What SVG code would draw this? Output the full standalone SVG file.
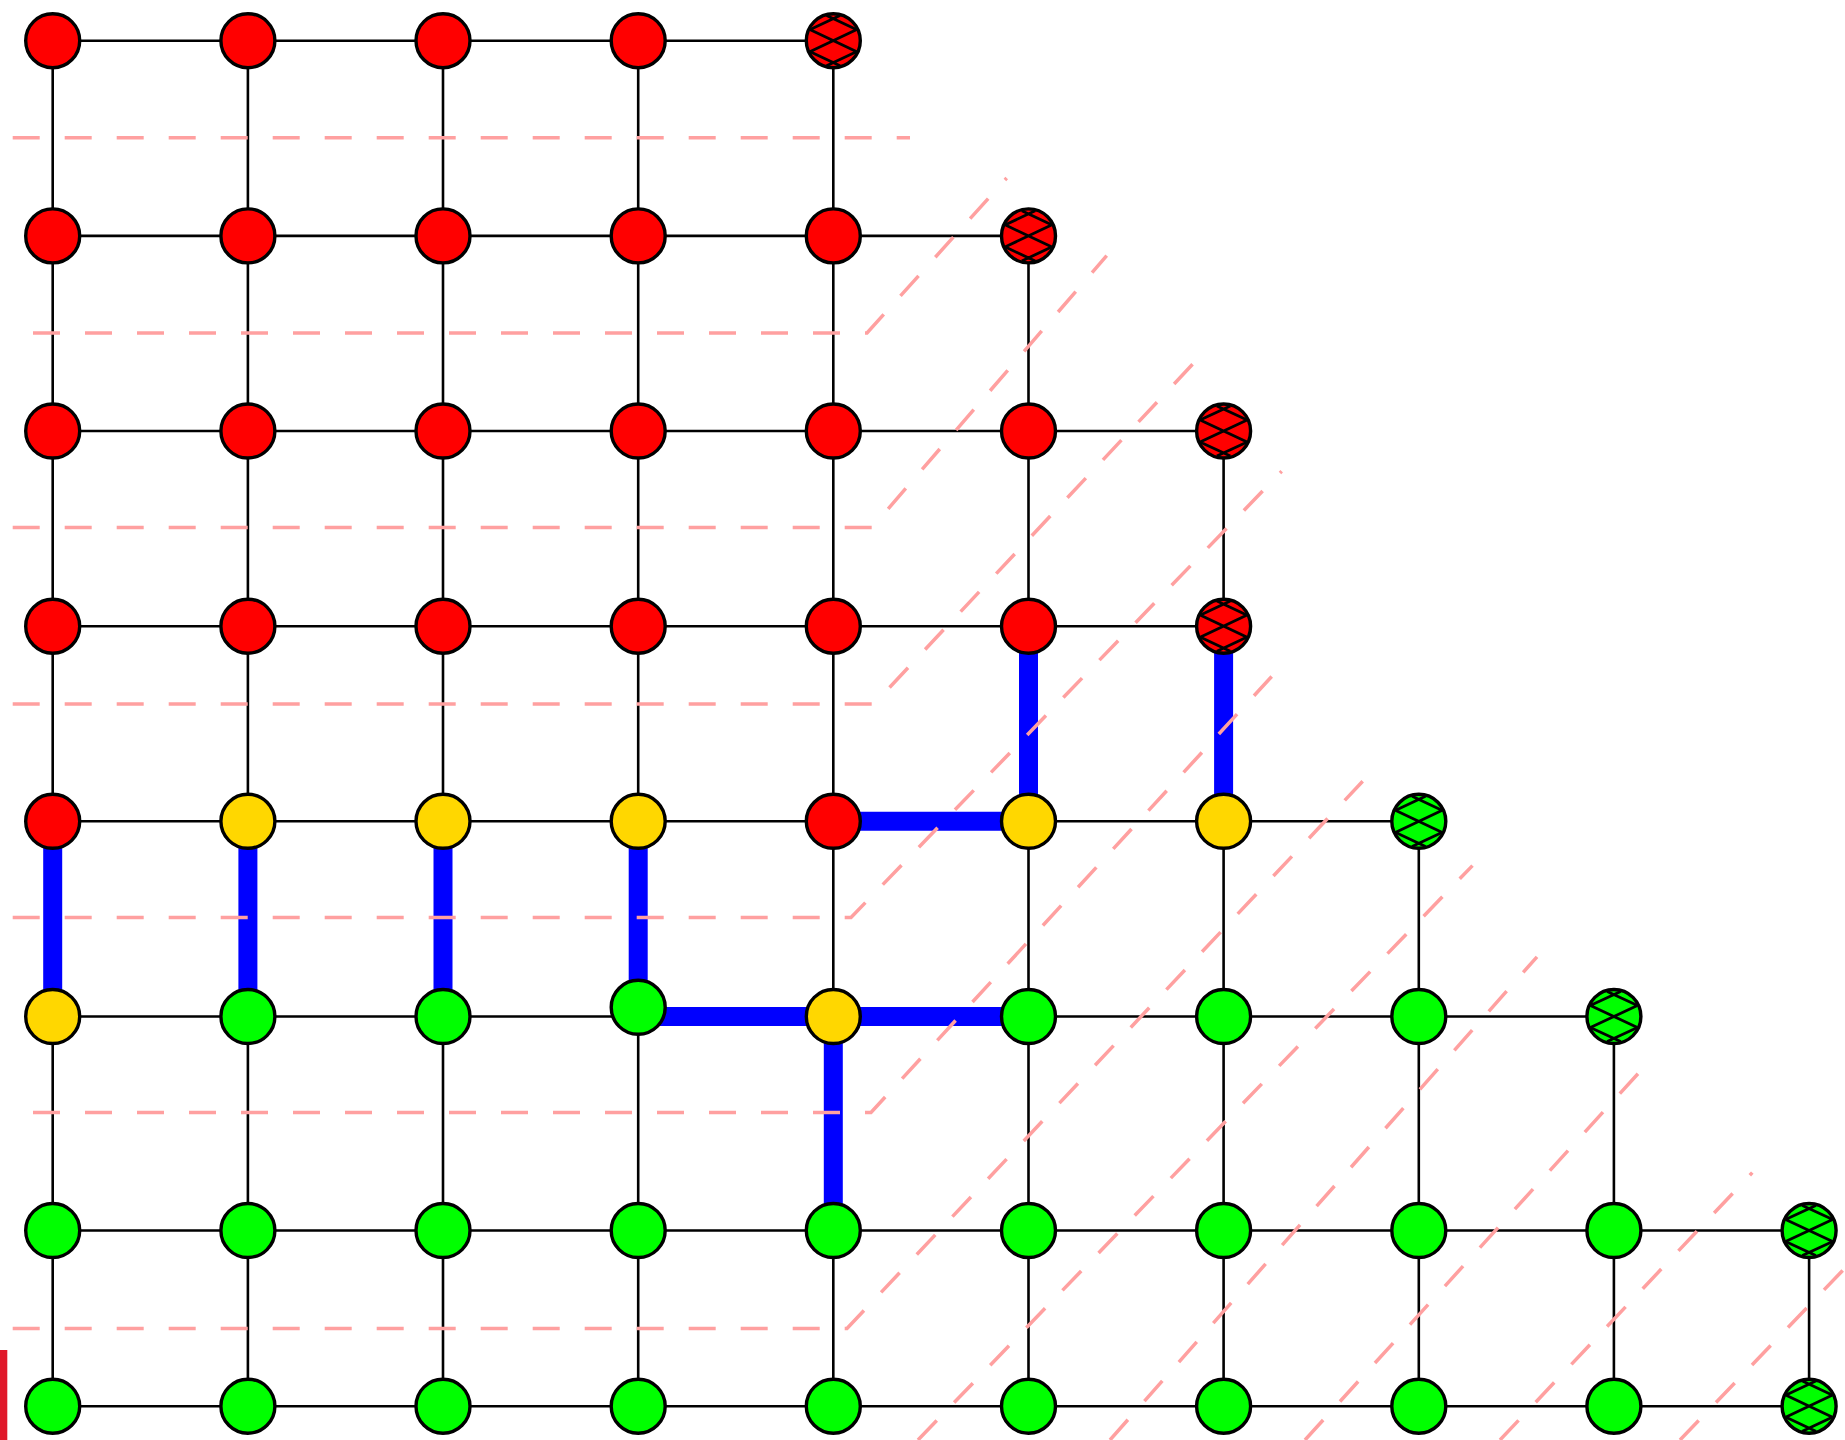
<svg xmlns="http://www.w3.org/2000/svg" xmlns:xlink="http://www.w3.org/1999/xlink" width="1845" height="1440" viewBox="0 0 1845 1440">
<style>
.e{stroke:#000;stroke-width:2.6;fill:none}
.b{stroke:#0000ff;stroke-width:19;fill:none}
.d{stroke:#ffa0a0;stroke-width:3.5;fill:none;stroke-dasharray:27 25}
.n{stroke:#000;stroke-width:3.4}
.r{fill:#ff0000}
.y{fill:#ffd700}
.g{fill:#00ff00}
.h{stroke:#000;stroke-width:2.8;fill:none}
</style>
<defs>
<path id="hx" class="h" d="M-23.5,-11.1L23.5,11.1M-23.5,11.1L23.5,-11.1M-6.7,-25.1L23.6,-10.9M6.7,-25.1L-23.6,-10.9M6.7,25.1L-23.6,10.9M-6.7,25.1L23.6,10.9"/>
</defs>
<rect width="1845" height="1440" fill="#fff"/>
<g id="connectors">
<path class="e" d="M52.7,40.7H833.3M52.7,235.9H1028.5M52.7,431H1223.6M52.7,626.2H1223.6M52.7,821.3H1418.8M52.7,1016.5H1613.9M52.7,1230.5H1809.1M52.7,1406.2H1809.1"/>
<path class="e" d="M52.7,40.7V1406.2M247.9,40.7V1406.2M443,40.7V1406.2M638.2,40.7V1406.2M833.3,40.7V1406.2M1028.5,235.9V1406.2M1223.6,431V1406.2M1418.8,821.3V1406.2M1613.9,1016.5V1406.2M1809.1,1230.5V1406.2"/>
<path class="b" d="M833.3,821.3H1028.5M1028.5,626.2V821.3M1223.6,626.2V821.3M52.7,821.3V1016.5M247.9,821.3V1016.5M443,821.3V1016.5M638.2,821.3V1007.3M638.2,1016.5H1028.5M833.3,1016.5V1230.5"/>
</g>
<g id="cuts">
<path class="d" d="M12.7,137.7H910"/>
<path class="d" d="M33,333H867L1006.7,178"/>
<path class="d" d="M12.7,527.5H872L1106.7,255.7"/>
<path class="d" d="M12.7,704H874L1193.3,363.5"/>
<path class="d" d="M12.7,917.5H851L1281.7,471.3"/>
<path class="d" d="M33,1112.5H871L1271.7,676.5"/>
<path class="d" d="M12.7,1328.5H847L1362.7,781.3"/>
<path class="d" d="M918,1440L1472.5,865.6"/>
<path class="d" d="M1110,1440L1537,956.8"/>
<path class="d" d="M1305,1440L1653.7,1056.4"/>
<path class="d" d="M1500,1440L1752.3,1172.6"/>
<path class="d" d="M1680,1440L1845,1268"/>
</g>
<g id="nodes">
<g id="n0_0"><circle class="n r" cx="52.7" cy="40.7" r="27"/></g>
<g id="n0_1"><circle class="n r" cx="247.9" cy="40.7" r="27"/></g>
<g id="n0_2"><circle class="n r" cx="443" cy="40.7" r="27"/></g>
<g id="n0_3"><circle class="n r" cx="638.2" cy="40.7" r="27"/></g>
<g id="n0_4"><circle class="n r" cx="833.3" cy="40.7" r="27"/><use xlink:href="#hx" href="#hx" x="833.3" y="40.7"/></g>
<g id="n1_0"><circle class="n r" cx="52.7" cy="235.9" r="27"/></g>
<g id="n1_1"><circle class="n r" cx="247.9" cy="235.9" r="27"/></g>
<g id="n1_2"><circle class="n r" cx="443" cy="235.9" r="27"/></g>
<g id="n1_3"><circle class="n r" cx="638.2" cy="235.9" r="27"/></g>
<g id="n1_4"><circle class="n r" cx="833.3" cy="235.9" r="27"/></g>
<g id="n1_5"><circle class="n r" cx="1028.5" cy="235.9" r="27"/><use xlink:href="#hx" href="#hx" x="1028.5" y="235.9"/></g>
<g id="n2_0"><circle class="n r" cx="52.7" cy="431" r="27"/></g>
<g id="n2_1"><circle class="n r" cx="247.9" cy="431" r="27"/></g>
<g id="n2_2"><circle class="n r" cx="443" cy="431" r="27"/></g>
<g id="n2_3"><circle class="n r" cx="638.2" cy="431" r="27"/></g>
<g id="n2_4"><circle class="n r" cx="833.3" cy="431" r="27"/></g>
<g id="n2_5"><circle class="n r" cx="1028.5" cy="431" r="27"/></g>
<g id="n2_6"><circle class="n r" cx="1223.6" cy="431" r="27"/><use xlink:href="#hx" href="#hx" x="1223.6" y="431"/></g>
<g id="n3_0"><circle class="n r" cx="52.7" cy="626.2" r="27"/></g>
<g id="n3_1"><circle class="n r" cx="247.9" cy="626.2" r="27"/></g>
<g id="n3_2"><circle class="n r" cx="443" cy="626.2" r="27"/></g>
<g id="n3_3"><circle class="n r" cx="638.2" cy="626.2" r="27"/></g>
<g id="n3_4"><circle class="n r" cx="833.3" cy="626.2" r="27"/></g>
<g id="n3_5"><circle class="n r" cx="1028.5" cy="626.2" r="27"/></g>
<g id="n3_6"><circle class="n r" cx="1223.6" cy="626.2" r="27"/><use xlink:href="#hx" href="#hx" x="1223.6" y="626.2"/></g>
<g id="n4_0"><circle class="n r" cx="52.7" cy="821.3" r="27"/></g>
<g id="n4_1"><circle class="n y" cx="247.9" cy="821.3" r="27"/></g>
<g id="n4_2"><circle class="n y" cx="443" cy="821.3" r="27"/></g>
<g id="n4_3"><circle class="n y" cx="638.2" cy="821.3" r="27"/></g>
<g id="n4_4"><circle class="n r" cx="833.3" cy="821.3" r="27"/></g>
<g id="n4_5"><circle class="n y" cx="1028.5" cy="821.3" r="27"/></g>
<g id="n4_6"><circle class="n y" cx="1223.6" cy="821.3" r="27"/></g>
<g id="n4_7"><circle class="n g" cx="1418.8" cy="821.3" r="27"/><use xlink:href="#hx" href="#hx" x="1418.8" y="821.3"/></g>
<g id="n5_0"><circle class="n y" cx="52.7" cy="1016.5" r="27"/></g>
<g id="n5_1"><circle class="n g" cx="247.9" cy="1016.5" r="27"/></g>
<g id="n5_2"><circle class="n g" cx="443" cy="1016.5" r="27"/></g>
<g id="n5_3"><circle class="n g" cx="638.2" cy="1007.3" r="27"/></g>
<g id="n5_4"><circle class="n y" cx="833.3" cy="1016.5" r="27"/></g>
<g id="n5_5"><circle class="n g" cx="1028.5" cy="1016.5" r="27"/></g>
<g id="n5_6"><circle class="n g" cx="1223.6" cy="1016.5" r="27"/></g>
<g id="n5_7"><circle class="n g" cx="1418.8" cy="1016.5" r="27"/></g>
<g id="n5_8"><circle class="n g" cx="1613.9" cy="1016.5" r="27"/><use xlink:href="#hx" href="#hx" x="1613.9" y="1016.5"/></g>
<g id="n6_0"><circle class="n g" cx="52.7" cy="1230.5" r="27"/></g>
<g id="n6_1"><circle class="n g" cx="247.9" cy="1230.5" r="27"/></g>
<g id="n6_2"><circle class="n g" cx="443" cy="1230.5" r="27"/></g>
<g id="n6_3"><circle class="n g" cx="638.2" cy="1230.5" r="27"/></g>
<g id="n6_4"><circle class="n g" cx="833.3" cy="1230.5" r="27"/></g>
<g id="n6_5"><circle class="n g" cx="1028.5" cy="1230.5" r="27"/></g>
<g id="n6_6"><circle class="n g" cx="1223.6" cy="1230.5" r="27"/></g>
<g id="n6_7"><circle class="n g" cx="1418.8" cy="1230.5" r="27"/></g>
<g id="n6_8"><circle class="n g" cx="1613.9" cy="1230.5" r="27"/></g>
<g id="n6_9"><circle class="n g" cx="1809.1" cy="1230.5" r="27"/><use xlink:href="#hx" href="#hx" x="1809.1" y="1230.5"/></g>
<g id="n7_0"><circle class="n g" cx="52.7" cy="1406.2" r="27"/></g>
<g id="n7_1"><circle class="n g" cx="247.9" cy="1406.2" r="27"/></g>
<g id="n7_2"><circle class="n g" cx="443" cy="1406.2" r="27"/></g>
<g id="n7_3"><circle class="n g" cx="638.2" cy="1406.2" r="27"/></g>
<g id="n7_4"><circle class="n g" cx="833.3" cy="1406.2" r="27"/></g>
<g id="n7_5"><circle class="n g" cx="1028.5" cy="1406.2" r="27"/></g>
<g id="n7_6"><circle class="n g" cx="1223.6" cy="1406.2" r="27"/></g>
<g id="n7_7"><circle class="n g" cx="1418.8" cy="1406.2" r="27"/></g>
<g id="n7_8"><circle class="n g" cx="1613.9" cy="1406.2" r="27"/></g>
<g id="n7_9"><circle class="n g" cx="1809.1" cy="1406.2" r="27"/><use xlink:href="#hx" href="#hx" x="1809.1" y="1406.2"/></g>
</g>
<rect x="0" y="1350" width="7.3" height="90" fill="#e0182a"/>
</svg>
